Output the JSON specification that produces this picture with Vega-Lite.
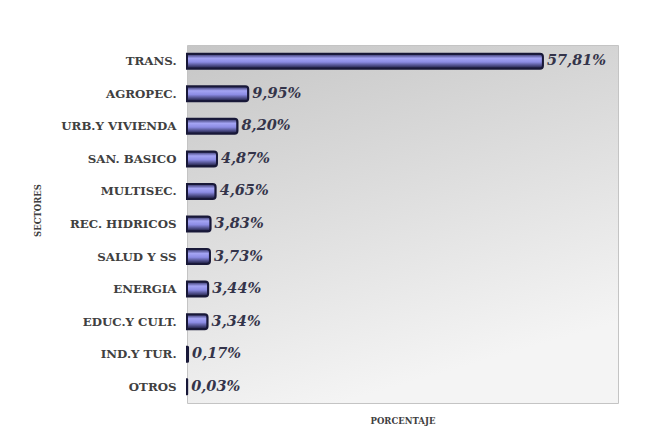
{
  "$schema": "https://vega.github.io/schema/vega-lite/v6.json",
  "autosize": {"type": "none"},
  "width": 431,
  "height": 358,
  "padding": {"left": 187, "top": 45, "right": 40, "bottom": 29},
  "background": "white",
  "data": {
    "values": [
      {"sector": "TRANS.", "pct": 57.81, "label": "57,81%"},
      {"sector": "AGROPEC.", "pct": 9.95, "label": "9,95%"},
      {"sector": "URB.Y VIVIENDA", "pct": 8.20, "label": "8,20%"},
      {"sector": "SAN. BASICO", "pct": 4.87, "label": "4,87%"},
      {"sector": "MULTISEC.", "pct": 4.65, "label": "4,65%"},
      {"sector": "REC. HIDRICOS", "pct": 3.83, "label": "3,83%"},
      {"sector": "SALUD Y SS", "pct": 3.73, "label": "3,73%"},
      {"sector": "ENERGIA", "pct": 3.44, "label": "3,44%"},
      {"sector": "EDUC.Y CULT.", "pct": 3.34, "label": "3,34%"},
      {"sector": "IND.Y TUR.", "pct": 0.17, "label": "0,17%"},
      {"sector": "OTROS", "pct": 0.03, "label": "0,03%"}
    ]
  },
  "encoding": {
    "y": {
      "field": "sector",
      "type": "nominal",
      "sort": null,
      "title": "SECTORES",
      "axis": {
        "ticks": false,
        "domain": false,
        "labelFont": "DejaVu Serif",
        "labelFontWeight": "bold",
        "labelFontSize": 11.8,
        "labelColor": "#404040",
        "labelPadding": 11,
        "titleFont": "DejaVu Serif",
        "titleFontWeight": "bold",
        "titleFontSize": 8.5,
        "titleColor": "#404040",
        "titleX": -145,
        "titleY": 165,
        "titleAngle": -90
      }
    }
  },
  "layer": [
    {
      "mark": {
        "type": "bar",
        "height": 15,
        "stroke": "#181838",
        "strokeWidth": 2,
        "cornerRadiusEnd": 3,
        "fill": {
          "gradient": "linear",
          "x1": 0, "y1": 0, "x2": 0, "y2": 1,
          "stops": [
            {"offset": 0, "color": "#2a2a5c"},
            {"offset": 0.3, "color": "#a4a4f4"},
            {"offset": 0.55, "color": "#8c8ce4"},
            {"offset": 1, "color": "#141434"}
          ]
        }
      },
      "encoding": {
        "x": {
          "field": "pct",
          "type": "quantitative",
          "scale": {"domain": [0, 70], "nice": false},
          "title": "PORCENTAJE",
          "axis": {
            "labels": false,
            "ticks": false,
            "grid": false,
            "domain": false,
            "titleFont": "DejaVu Serif",
            "titleFontWeight": "bold",
            "titleFontSize": 8.5,
            "titleColor": "#404040",
            "titlePadding": 13
          }
        },
        "opacity": {"condition": {"test": "datum.pct < 0.5", "value": 0}, "value": 1}
      }
    },
    {
      "mark": {
        "type": "text",
        "align": "left",
        "baseline": "middle",
        "dx": 4,
        "font": "DejaVu Serif",
        "fontStyle": "italic",
        "fontWeight": "bold",
        "fontSize": 14.5,
        "fill": "#34344a"
      },
      "encoding": {
        "x": {"field": "pct", "type": "quantitative"},
        "text": {"field": "label"}
      }
    }
  ],
  "config": {
    "view": {
      "stroke": "#c4c4c4",
      "strokeWidth": 1,
      "fill": {
        "gradient": "linear",
        "x1": 0, "y1": 0, "x2": 0.35, "y2": 1,
        "stops": [
          {"offset": 0, "color": "#c6c6c6"},
          {"offset": 1, "color": "#f4f4f4"}
        ]
      }
    }
  }
}
